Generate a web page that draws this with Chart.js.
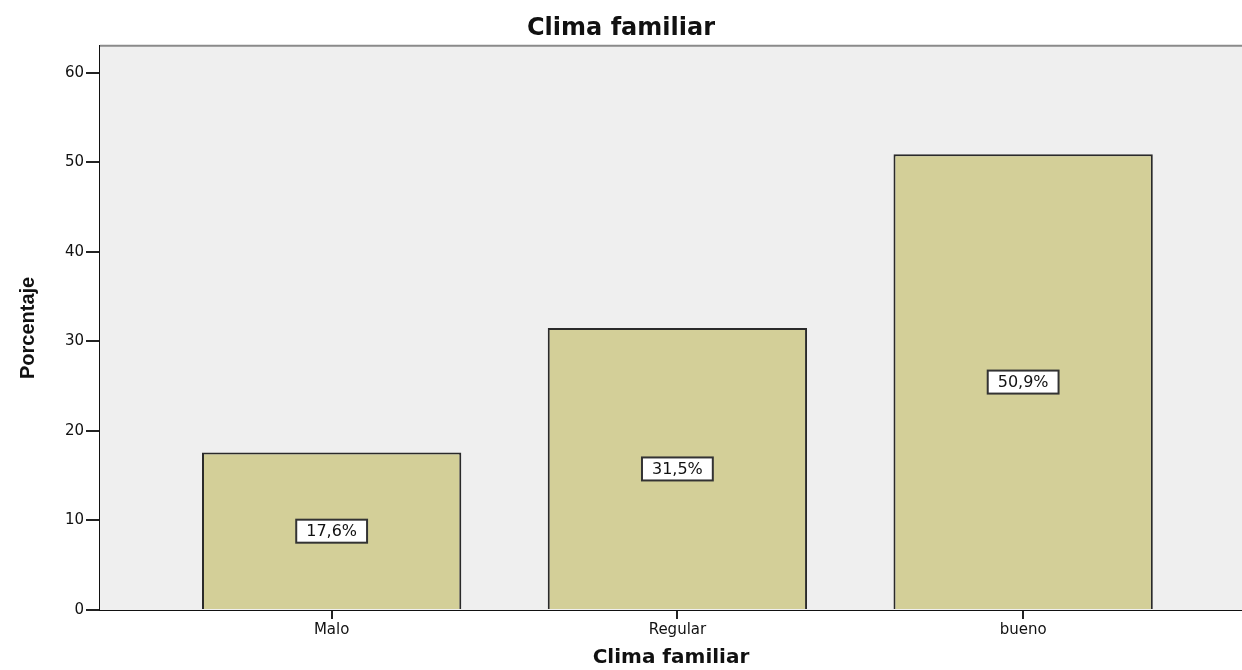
<!DOCTYPE html>
<html>
<head>
<meta charset="utf-8">
<script src="https://cdn.jsdelivr.net/npm/chart.js@4"></script>
<style>
  html, body { margin: 0; padding: 0; background: #fff; }
  #wrap { width: 1242px; height: 670px; }
</style>
</head>
<body>
<div id="wrap"><canvas id="climaChart"></canvas></div>
<script>
const categories = ['Malo', 'Regular', 'bueno'];
const porcentajes = [17.6, 31.5, 50.9];
const etiquetas = ['17,6%', '31,5%', '50,9%'];
const yTicks = [0, 10, 20, 30, 40, 50, 60];

const fuente = '"DejaVu Sans", Verdana, sans-serif';

const fondoPlugin = {
    id: 'fondo',
    beforeDatasetsDraw(chart) {
        const { ctx, chartArea: a } = chart;
        ctx.save();
        ctx.fillStyle = '#efefef';
        ctx.fillRect(a.left, a.top, a.right - a.left, a.bottom - a.top);
        ctx.strokeStyle = '#8a8a8a';
        ctx.lineWidth = 2;
        ctx.beginPath();
        ctx.moveTo(a.left, a.top);
        ctx.lineTo(a.right, a.top);
        ctx.stroke();
        ctx.restore();
    }
};

const etiquetasPlugin = {
    id: 'etiquetas',
    afterDatasetsDraw(chart) {
        const { ctx, scales } = chart;
        ctx.save();
        ctx.font = '16px ' + fuente;
        ctx.textAlign = 'center';
        ctx.textBaseline = 'middle';
        porcentajes.forEach((v, i) => {
            const x = scales.x.getPixelForValue(i);
            const y = scales.y.getPixelForValue(v / 2);
            const w = ctx.measureText(etiquetas[i]).width + 20;
            const h = 23;
            ctx.fillStyle = '#ffffff';
            ctx.fillRect(x - w / 2, y - h / 2, w, h);
            ctx.strokeStyle = '#333333';
            ctx.lineWidth = 2;
            ctx.strokeRect(x - w / 2, y - h / 2, w, h);
            ctx.fillStyle = '#111111';
            ctx.fillText(etiquetas[i], x, y + 1);
        });
        ctx.restore();
    }
};

const data = {
    datasets: [{
        label: 'Porcentaje',
        data: porcentajes.map((v, i) => ({ x: i, y: v })),
        backgroundColor: '#d3cf98',
        borderColor: '#2a2a2a',
        borderWidth: 2,
        barPercentage: 0.75,
        categoryPercentage: 1
    }]
};

const config = {
    type: 'bar',
    data: data,
    options: {
        responsive: true,
        maintainAspectRatio: false,
        animation: false,
        layout: { padding: 0 },
        scales: {
            x: {
                type: 'linear',
                offset: false,
                min: -0.67,
                max: 2.633,
                afterBuildTicks: (scale) => { scale.ticks = categories.map((c, i) => ({ value: i })); },
                afterFit: (scale) => { scale.height = 60; },
                ticks: {
                    callback: (v) => categories[v],
                    color: '#111',
                    font: { family: fuente, size: 15 },
                    padding: 2,
                    maxRotation: 0
                },
                grid: { offset: false, drawOnChartArea: false, drawTicks: true, tickLength: 9, color: '#222', lineWidth: 2 },
                border: { display: true, color: '#111', width: 2 },
                title: {
                    display: true,
                    text: 'Clima familiar',
                    color: '#111',
                    font: { family: fuente, size: 20, weight: 'bold' },
                    padding: { top: 8, bottom: 0 }
                }
            },
            y: {
                min: 0,
                max: 63,
                afterBuildTicks: (scale) => { scale.ticks = yTicks.map(v => ({ value: v })); },
                afterFit: (scale) => { scale.width = 100; },
                ticks: {
                    color: '#111',
                    font: { family: fuente, size: 15 },
                    padding: 2
                },
                grid: { drawOnChartArea: false, drawTicks: true, tickLength: 14, color: '#222', lineWidth: 2 },
                border: { display: true, color: '#111', width: 2 },
                title: {
                    display: true,
                    text: 'Porcentaje',
                    color: '#111',
                    font: { family: '"Liberation Sans", Arial, sans-serif', size: 20, weight: 'bold' },
                    padding: { top: 16, bottom: 0 }
                }
            }
        },
        plugins: {
            legend: { display: false },
            tooltip: { enabled: false },
            title: {
                display: true,
                text: 'Clima familiar',
                color: '#111',
                font: { family: fuente, size: 24, weight: 'bold' },
                padding: { top: 14, bottom: 3 }
            }
        }
    },
    plugins: [fondoPlugin, etiquetasPlugin]
};

new Chart(document.getElementById('climaChart'), config);
</script>
</body>
</html>
